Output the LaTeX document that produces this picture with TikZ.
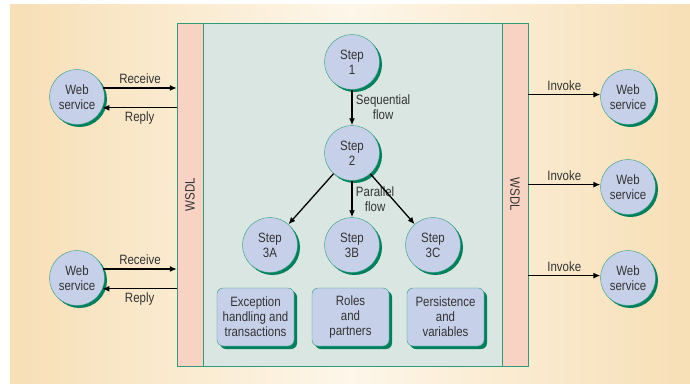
\documentclass[tikz,border=0pt]{standalone}
\usepackage{fontspec}
\setmainfont{Liberation Sans}[FakeStretch=0.85]
\usetikzlibrary{arrows.meta,shadows}
\definecolor{bgorange}{HTML}{F7DFB6}
\definecolor{bglight}{HTML}{FDF6E9}
\definecolor{corefill}{HTML}{D9E6E1}
\definecolor{rimgreen}{HTML}{2E9B7D}
\definecolor{wsdlfill}{HTML}{F8D3C3}
\definecolor{ballblue}{HTML}{C6D0E9}
\definecolor{shadegreen}{HTML}{00805C}
\definecolor{inkgray}{HTML}{333333}
\begin{document}
\begin{tikzpicture}[x=1pt,y=-1pt, font=\fontsize{13.5}{15}\selectfont,
  every node/.style={text=inkgray},
  ball/.style={circle, draw=rimgreen, fill=ballblue, minimum size=55, inner sep=0, align=center,
    drop shadow={shadow xshift=2.5pt, shadow yshift=-2.5pt, fill=shadegreen, opacity=1}},
  topic/.style={rectangle, rounded corners=6, draw=rimgreen, fill=ballblue, minimum width=77, minimum height=58, inner sep=0, align=center,
    drop shadow={shadow xshift=3pt, shadow yshift=-3pt, fill=shadegreen, opacity=1}},
  bar/.style={rectangle, draw=rimgreen, fill=wsdlfill, minimum width=26, minimum height=343, inner sep=0},
  flow/.style={-{Latex[length=7pt,width=6pt]}, line width=1.3pt, black}]
\useasboundingbox (0,0) rectangle (690,383);
\shade[left color=bgorange, right color=bgorange, middle color=bglight] (10,4) rectangle (690,383);
% WSDL bars and process box
\node[bar] (wsdlL) at (190,194.5) {};
\node[rectangle, draw=rimgreen, fill=corefill, minimum width=299, minimum height=343, inner sep=0] (core) at (352.5,194.5) {};
\node[bar] (wsdlR) at (515,194.5) {};
\node[rotate=90] at (wsdlL) {WSDL};
\node[rotate=-90] at (wsdlR) {WSDL};
% web services
\foreach \n/\x/\y in {wsA/77/97, wsB/77/278, wsC/628/97, wsD/628/187, wsE/628/278}
  \node[ball] (\n) at (\x,\y) {Web\\service};
% steps
\node[ball] (s1) at (352,62) {Step\\1};
\node[ball] (s2) at (352,153) {Step\\2};
\node[ball] (s3a) at (270,245) {Step\\3A};
\node[ball] (s3b) at (352,245) {Step\\3B};
\node[ball] (s3c) at (433,245) {Step\\3C};
\node[topic] (exc) at (255.5,317) {Exception\\handling and\\transactions};
\node[topic] (roles) at (350.5,317) {Roles\\and\\partners};
\node[topic] (pers) at (445.5,317) {Persistence\\and\\variables};
% flows
\draw[flow] (s1) -- (s2) node[midway,right,align=center]{Sequential\\flow};
\draw[flow] (s2) -- (s3b) node[midway,right,align=center]{Parallel\\flow};
\foreach \t in {s3a,s3c} \draw[flow] (s2) -- (\t);
\foreach \w in {wsA,wsB}{
  \draw[flow] (\w.19) -- (\w.19 -| wsdlL.west) node[midway,above]{Receive};
  \draw[flow] (\w.-23 -| wsdlL.west) -- (\w.-23) node[midway,below]{Reply};
}
\foreach \w in {wsC,wsD,wsE}
  \draw[flow] (\w.175 -| wsdlR.east) -- (\w.175) node[midway,above]{Invoke};
\end{tikzpicture}
\end{document}
